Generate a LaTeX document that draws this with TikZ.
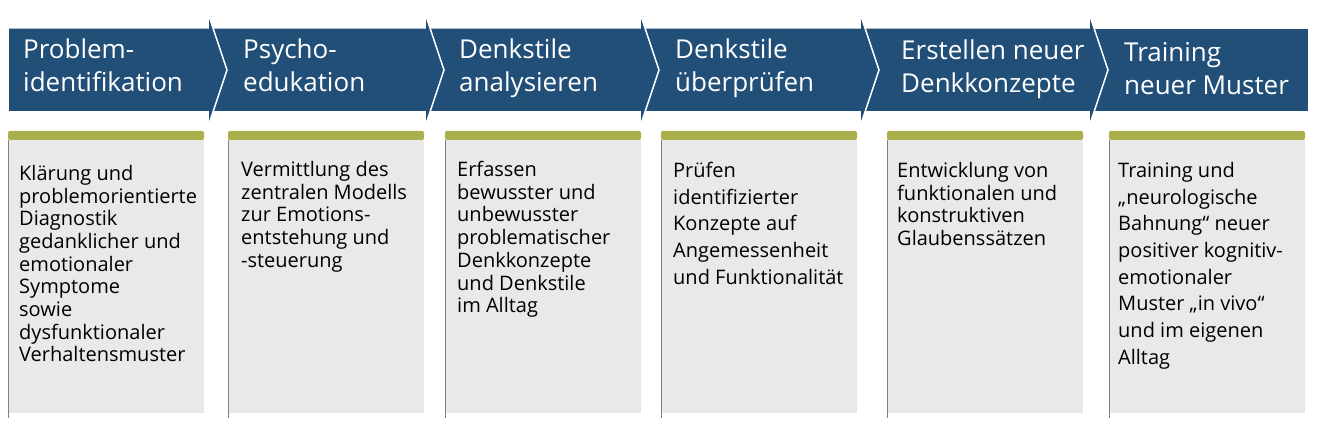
\documentclass[tikz,border=0pt]{standalone}
\usepackage{fontspec}
\setmainfont{Open Sans}
\usetikzlibrary{positioning}

\definecolor{stepblue}{HTML}{224F78}
\definecolor{bargreen}{HTML}{A9AF4B}
\definecolor{panelgrey}{HTML}{E9E9E9}
\definecolor{edgegrey}{HTML}{808080}

\tikzset{
  steptitle/.style={text=white, font=\fontsize{26}{33}\selectfont, align=left, anchor=north west, inner sep=0pt},
  stepdesc/.style={font=\fontsize{20}{22.7}\selectfont, align=left, anchor=north west, inner sep=0pt},
  widedesc/.style={stepdesc, font=\fontsize{20}{26.7}\selectfont},
}

\begin{document}
\begin{tikzpicture}[x=1pt, y=-1pt]
    \useasboundingbox (0,0) rectangle (1322,446);

    % Last step: plain bar
    \fill[stepblue] (1089,29) rectangle (1308,111);

    % Chevrons, right to left so each head lies over the next bar
    \foreach \xl/\xb in {860/1089, 640/860, 425/640, 208/425, 8/208} {
        \filldraw[stepblue, draw=white, line width=1.5pt]
            (\xl,28) -- (\xb,28) -- (\xb,13) -- (\xb+19,70) -- (\xb,127)
            -- (\xb,112) -- (\xl,112) -- cycle;
    }

    % Panels below the chevrons
    \foreach \xp in {8, 228, 445, 661, 887, 1109} {
        \fill[panelgrey] (\xp,140) rectangle ++(196,273);
        \fill[bargreen, rounded corners=2pt] (\xp,131) rectangle ++(196,9);
        \draw[edgegrey, line width=1pt] (\xp,140) -- (\xp,418);
    }

    % Step titles
    \node[steptitle] (t1) at (23,39)   {Problem-\\identifikation};
    \node[steptitle] (t2) at (243,39)  {Psycho-\\edukation};
    \node[steptitle] (t3) at (459,39)  {Denkstile\\analysieren};
    \node[steptitle] (t4) at (675,39)  {Denkstile\\überprüfen};
    \node[steptitle] (t5) at (901,40)  {Erstellen neuer\\Denkkonzepte};
    \node[steptitle] (t6) at (1124,42) {Training\\neuer Muster};

    % Step descriptions
    \node[stepdesc] (d1) at (19,165)
        {Klärung und\\problemorientierte\\Diagnostik\\gedanklicher und\\emotionaler\\Symptome\\sowie\\dysfunktionaler\\Verhaltensmuster};
    \node[stepdesc] (d2) at (241,161)
        {Vermittlung des\\zentralen Modells\\zur Emotions-\\entstehung und\\-steuerung};
    \node[stepdesc] (d3) at (457,161)
        {Erfassen\\bewusster und\\unbewusster\\problematischer\\Denkkonzepte\\und Denkstile\\im Alltag};
    \node[widedesc] (d4) at (673,162)
        {Prüfen\\identifizierter\\Konzepte auf\\Angemessenheit\\und Funktionalität};
    \node[stepdesc] (d5) at (897,162)
        {Entwicklung von\\funktionalen und\\konstruktiven\\Glaubenssätzen};
    \node[widedesc] (d6) at (1118,162)
        {Training und\\„neurologische\\Bahnung“ neuer\\positiver kognitiv-\\emotionaler\\Muster „in vivo“\\und im eigenen\\Alltag};

\end{tikzpicture}
\end{document}
